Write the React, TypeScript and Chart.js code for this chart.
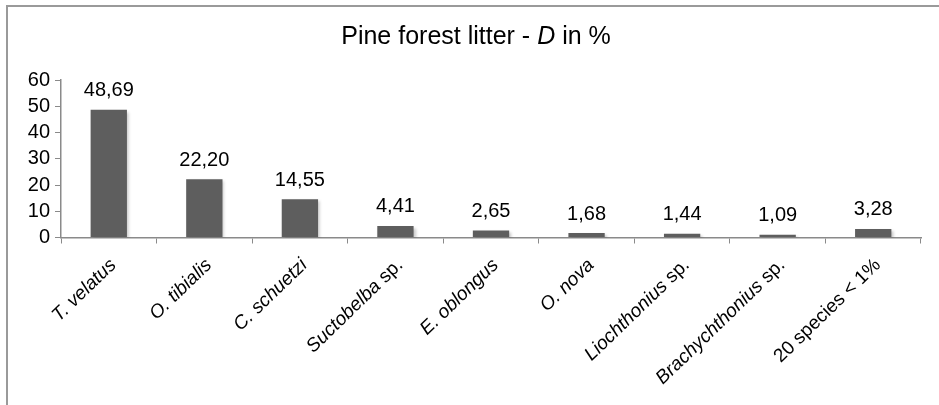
import React, { useEffect, useRef } from "react";
import { Chart, registerables } from "chart.js";

Chart.register(...registerables);

const categories = [
  "T. velatus",
  "O. tibialis",
  "C. schuetzi",
  "Suctobelba sp.",
  "E. oblongus",
  "O. nova",
  "Liochthonius sp.",
  "Brachychthonius sp.",
  "20 species < 1%",
];
const dominance = [48.69, 22.2, 14.55, 4.41, 2.65, 1.68, 1.44, 1.09, 3.28];
const yTicks = [0, 10, 20, 30, 40, 50, 60];
const titleParts = [
  { text: "Pine forest litter - ", italic: false },
  { text: "D", italic: true },
  { text: " in %", italic: false },
];

const FONT = "'Liberation Sans', Arial, sans-serif";

function splitLabel(label: string) {
  if (label.endsWith(" sp.")) {
    return [
      { text: label.slice(0, -4), italic: true },
      { text: " sp.", italic: false },
    ];
  }
  if (/^\d/.test(label)) return [{ text: label, italic: false }];
  return [{ text: label, italic: true }];
}

const customPlugin = {
  id: "custom",
  beforeDraw(chart: any) {
    const ctx = chart.ctx;
    ctx.save();
    ctx.fillStyle = "#ffffff";
    ctx.fillRect(0, 0, chart.width, chart.height);
    ctx.strokeStyle = "#9a9a9a";
    ctx.lineWidth = 2;
    ctx.beginPath();
    ctx.moveTo(7, chart.height + 5);
    ctx.lineTo(7, 6);
    ctx.lineTo(chart.width + 5, 6);
    ctx.stroke();
    ctx.restore();
  },
  beforeDatasetsDraw(chart: any) {
    const ctx = chart.ctx;
    ctx.save();
    ctx.shadowColor = "rgba(0,0,0,0.22)";
    ctx.shadowBlur = 3;
    ctx.shadowOffsetX = 2;
    ctx.shadowOffsetY = 2;
  },
  afterDatasetsDraw(chart: any) {
    const ctx = chart.ctx;
    ctx.restore();
    const meta = chart.getDatasetMeta(0);
    ctx.save();
    ctx.fillStyle = "#000";
    ctx.font = `20px ${FONT}`;
    ctx.textAlign = "center";
    ctx.textBaseline = "bottom";
    meta.data.forEach((bar: any, i: number) => {
      const txt = dominance[i].toFixed(2).replace(".", ",");
      ctx.fillText(txt, bar.x, bar.y - 9);
    });
    ctx.restore();
  },
  afterDraw(chart: any) {
    const ctx = chart.ctx;
    ctx.save();
    ctx.fillStyle = "#000";
    ctx.textBaseline = "middle";
    ctx.textAlign = "left";
    const fonts = titleParts.map((p) => `${p.italic ? "italic " : ""}25px ${FONT}`);
    let total = 0;
    titleParts.forEach((p, i) => {
      ctx.font = fonts[i];
      total += ctx.measureText(p.text).width;
    });
    let x = 476 - total / 2;
    titleParts.forEach((p, i) => {
      ctx.font = fonts[i];
      ctx.fillText(p.text, x, 37);
      x += ctx.measureText(p.text).width;
    });
    ctx.restore();

    const xs = chart.scales.x;
    const axisY = chart.chartArea.bottom;
    categories.forEach((label, i) => {
      const cx = xs.getPixelForValue(i);
      const parts = splitLabel(label);
      ctx.save();
      ctx.translate(cx - 2, axisY + 18);
      ctx.rotate((-44 * Math.PI) / 180);
      ctx.fillStyle = "#000";
      ctx.textBaseline = "top";
      ctx.textAlign = "left";
      const pf = parts.map((p) => `${p.italic ? "italic " : ""}19px ${FONT}`);
      let w = 0;
      parts.forEach((p, k) => {
        ctx.font = pf[k];
        w += ctx.measureText(p.text).width;
      });
      let px = -w;
      parts.forEach((p, k) => {
        ctx.font = pf[k];
        ctx.fillText(p.text, px, 0);
        px += ctx.measureText(p.text).width;
      });
      ctx.restore();
    });
  },
};

export default function App() {
  const ref = useRef<HTMLCanvasElement>(null);
  useEffect(() => {
    if (!ref.current) return;
    const chart = new Chart(ref.current, {
      type: "bar",
      data: {
        labels: categories,
        datasets: [
          {
            data: dominance,
            backgroundColor: "#5e5e5e",
            borderWidth: 0,
            categoryPercentage: 1,
            barPercentage: 0.38,
          },
        ],
      },
      options: {
        animation: false,
        responsive: false,
        maintainAspectRatio: false,
        layout: { padding: { top: 80, right: 18, left: 0, bottom: 0 } },
        plugins: {
          legend: { display: false },
          title: { display: false },
          tooltip: { enabled: false },
        },
        scales: {
          x: {
            offset: true,
            grid: {
              display: true,
              offset: true,
              drawOnChartArea: false,
              drawTicks: true,
              tickLength: 6,
              color: "#8a8a8a",
            },
            border: { display: true, color: "#8a8a8a", width: 1.5 },
            ticks: { display: false },
            afterFit: (scale: any) => {
              scale.height = 167.5;
            },
          },
          y: {
            min: 0,
            max: 60,
            afterBuildTicks: (scale: any) => {
              scale.ticks = yTicks.map((v) => ({ value: v }));
            },
            grid: {
              display: true,
              drawOnChartArea: false,
              drawTicks: true,
              tickLength: 6,
              color: "#8a8a8a",
            },
            border: { display: true, color: "#8a8a8a", width: 1.5 },
            ticks: {
              color: "#000",
              padding: 5,
              autoSkip: false,
              font: { family: FONT, size: 20, lineHeight: 1 },
            },
            afterFit: (scale: any) => {
              scale.width = 61;
            },
          },
        },
      },
      plugins: [customPlugin],
    });
    return () => chart.destroy();
  }, []);
  return (
    <canvas
      ref={ref}
      width={939}
      height={405}
      style={{ position: "fixed", left: 0, top: 0, width: 939, height: 405 }}
    />
  );
}
